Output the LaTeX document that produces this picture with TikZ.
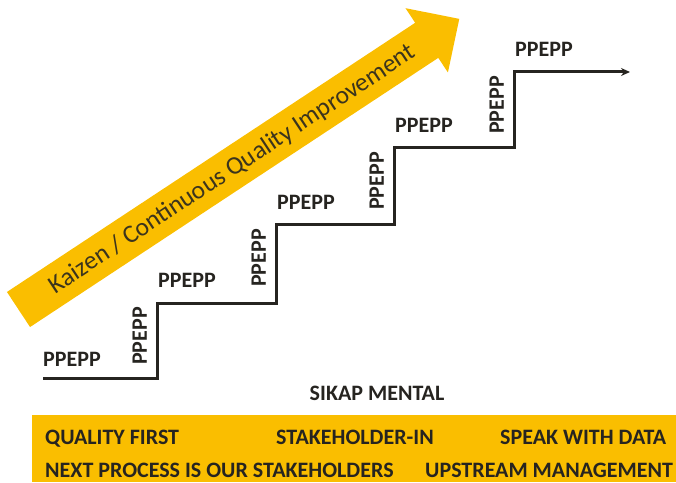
\documentclass[tikz,border=0pt]{standalone}
\usepackage{fontspec}
\setmainfont{Carlito}
\usetikzlibrary{arrows.meta}
\definecolor{kgold}{HTML}{FABE00}
\definecolor{kink}{HTML}{262420}
\begin{document}
\begin{tikzpicture}[x=1pt,y=1pt,
  stepline/.style={line width=3pt,draw=kink},
  steplabel/.style={font=\bfseries\fontsize{22}{22}\selectfont,text=kink,inner sep=0pt},
  risertext/.style={steplabel,rotate=90,anchor=south east},
  kaizentext/.style={font=\fontsize{25.5}{25.5}\selectfont,text=kink!90!kgold,inner sep=0pt}]
\useasboundingbox (0,0) rectangle (676,482);

% big arrow
\begin{scope}[shift={(18.5,172.5)},rotate=33.4]
  \fill[kgold] (0,-21) -- (489,-21) -- (489,-38.5) -- (528,0) -- (489,38.5) -- (489,21) -- (0,21) -- cycle;
  \node[kaizentext,rotate=33.4] (kaizen) at (256,-1) {Kaizen / Continuous Quality Improvement};
\end{scope}

% staircase
\coordinate (start) at (43,104);
\coordinate (end) at (630,410);
\foreach \x/\yb/\yt [count=\i] in {157/104/179, 276/179/257, 394/257/334, 514/334/410}
  {\coordinate (b\i) at (\x,\yb);
   \coordinate (t\i) at (\x,\yt);
   \node[risertext] (r\i) at ([xshift=-10pt,yshift=-4pt]t\i) {PPEPP};
   \node[steplabel,anchor=south west] (p\i) at ([xshift=1pt,yshift=15pt]t\i) {PPEPP};}
\node[steplabel,anchor=south west] (p0) at ([yshift=11pt]start) {PPEPP};
\draw[stepline,-{Stealth[length=9pt,width=8pt]}] (start) -- (b1) -- (t1) -- (b2) -- (t2)
  -- (b3) -- (t3) -- (b4) -- (t4) -- (end);

% mental attitude box
\node[steplabel,anchor=base] (sikap) at (377,82) {SIKAP MENTAL};
\fill[kgold] (32,0) rectangle (676,67);
\node[steplabel,anchor=base west] (quality) at (45,38) {QUALITY FIRST};
\node[steplabel,anchor=base west] (stake) at (276,38) {STAKEHOLDER-IN};
\node[steplabel,anchor=base west] (speak) at (500,38) {SPEAK WITH DATA};
\node[steplabel,anchor=base west] (next) at (45,5) {NEXT PROCESS IS OUR STAKEHOLDERS};
\node[steplabel,anchor=base west] (upstream) at (425,5) {UPSTREAM MANAGEMENT};

\end{tikzpicture}
\end{document}
